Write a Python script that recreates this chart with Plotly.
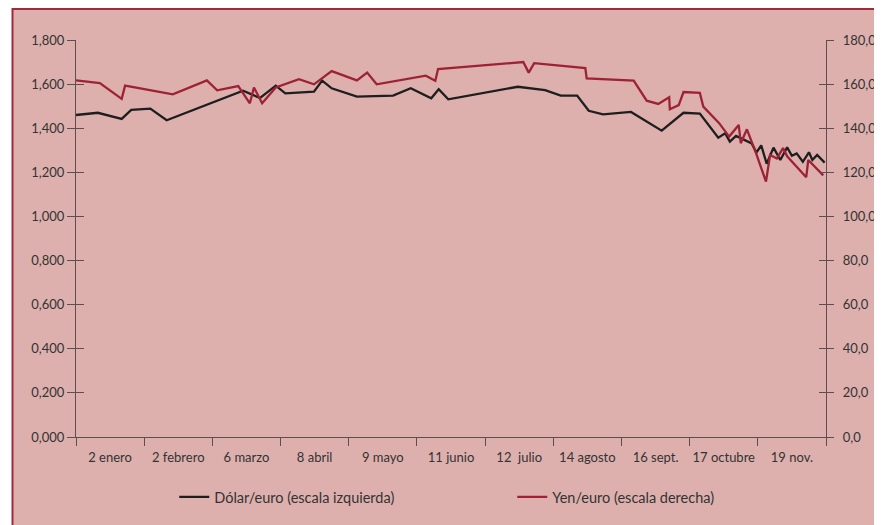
import plotly.graph_objects as go

# ---- data (x in month-period units: tick i = boundary i) ----
period_labels = ["2 enero", "2 febrero", "6 marzo", "8 abril", "9 mayo", "11 junio",
                 "12  julio", "14 agosto", "16 sept.", "17 octubre", "19 nov."]

usd_x = [0.00, 0.32, 0.67, 0.81, 1.09, 1.33, 2.45, 2.70, 2.93, 3.07, 3.49, 3.61, 3.75,
         4.12, 4.65, 4.91, 5.21, 5.32, 5.46, 6.48, 6.88, 7.11, 7.35, 7.52, 7.73, 8.14,
         8.59, 8.91, 9.15, 9.42, 9.52, 9.59, 9.68, 9.91, 9.98, 10.05, 10.13, 10.23,
         10.33, 10.43, 10.50, 10.57, 10.66, 10.75, 10.80, 10.87, 10.98]
usd_eur = [1.460, 1.470, 1.442, 1.483, 1.489, 1.436, 1.570, 1.537, 1.593, 1.558, 1.566,
           1.616, 1.581, 1.543, 1.548, 1.581, 1.536, 1.577, 1.531, 1.588, 1.573, 1.548,
           1.548, 1.479, 1.463, 1.474, 1.389, 1.470, 1.466, 1.357, 1.377, 1.339, 1.365,
           1.331, 1.290, 1.322, 1.239, 1.312, 1.256, 1.313, 1.275, 1.286, 1.248, 1.291,
           1.256, 1.279, 1.244]

jpy_x = [0.00, 0.35, 0.67, 0.72, 1.42, 1.92, 2.07, 2.38, 2.55, 2.61, 2.73, 2.93, 3.27,
         3.49, 3.75, 4.12, 4.27, 4.41, 5.13, 5.27, 5.31, 6.56, 6.64, 6.72, 7.47, 7.49,
         8.18, 8.37, 8.54, 8.70, 8.71, 8.84, 8.91, 9.15, 9.20, 9.43, 9.58, 9.72, 9.75,
         9.84, 9.97, 10.12, 10.18, 10.28, 10.37, 10.43, 10.71, 10.74, 10.96]
jpy_eur = [161.7, 160.5, 153.3, 159.3, 155.4, 161.7, 157.2, 159.1, 151.3, 158.5, 151.3,
           158.5, 162.2, 159.9, 165.9, 161.7, 165.2, 159.9, 163.8, 161.5, 166.8, 170.0,
           165.2, 169.5, 167.3, 162.6, 161.6, 152.5, 151.0, 154.0, 148.6, 150.5, 156.4,
           156.0, 149.8, 142.4, 136.2, 141.5, 133.2, 139.5, 129.0, 115.8, 127.9, 126.3,
           131.0, 127.3, 117.8, 125.6, 118.6]

left_ticks = [0, 0.2, 0.4, 0.6, 0.8, 1.0, 1.2, 1.4, 1.6, 1.8]
left_text = ["0,000", "0,200", "0,400", "0,600", "0,800", "1,000", "1,200", "1,400", "1,600", "1,800"]
right_ticks = [0, 20, 40, 60, 80, 100, 120, 140, 160, 180]
right_text = ["0,0", "20,0", "40,0", "60,0", "80,0", "100,0", "120,0", "140,0", "160,0", "180,0"]

# ---- style ----
FONT = "Lato"
TXT = "#333333"
AX = "#5e4e4e"
PINK = "#ddb0ad"
FRAME = "#a3283a"
BLACK = "#1e1e1e"
RED = "#9e2236"

fig = go.Figure()
fig.add_trace(go.Scatter(x=jpy_x, y=jpy_eur, mode="lines", name="Yen/euro (escala derecha)",
                         line=dict(color=RED, width=2.3), yaxis="y2", legendrank=2))
fig.add_trace(go.Scatter(x=usd_x, y=usd_eur, mode="lines", name="Dólar/euro (escala izquierda)",
                         line=dict(color=BLACK, width=2.3), yaxis="y", legendrank=1))
# helper traces so inner tick axes are drawn
fig.add_trace(go.Scatter(x=[None], y=[None], yaxis="y3", showlegend=False, hoverinfo="skip"))
fig.add_trace(go.Scatter(x=[None], y=[None], yaxis="y4", showlegend=False, hoverinfo="skip"))

n = len(period_labels)
# page body has an 8px margin, so the figure is 8px smaller than the window
fig.update_layout(
    width=874, height=517, autosize=False,
    margin=dict(l=68, r=56, t=32, b=88, autoexpand=False),
    paper_bgcolor="white", plot_bgcolor="rgba(0,0,0,0)",
    font=dict(family=FONT, size=13, color=TXT),
    showlegend=True,
    legend=dict(orientation="h", x=0.131, y=-0.151, xanchor="left", yanchor="middle",
                entrywidth=293, entrywidthmode="pixels", bgcolor="rgba(0,0,0,0)",
                font=dict(family=FONT, size=14.5, color=TXT), traceorder="normal"),
    xaxis=dict(range=[0, n], tickmode="array", tickvals=[i + 0.5 for i in range(n)],
               ticktext=period_labels, ticks="", showline=True, linecolor=AX, linewidth=1.2,
               showgrid=False, zeroline=False, ticklabelstandoff=8, automargin=False,
               minor=dict(tickmode="array", tickvals=list(range(n + 1)), ticks="outside",
                          ticklen=8, tickcolor=AX, tickwidth=1.2, showgrid=False)),
    yaxis=dict(range=[0, 1.8], tickmode="array", tickvals=left_ticks, ticktext=left_text,
               ticks="outside", ticklen=8, tickcolor=AX, tickwidth=1.2, showline=True,
               linecolor=AX, linewidth=1.2, showgrid=False, zeroline=False, automargin=False),
    yaxis2=dict(range=[0, 180], overlaying="y", side="right", anchor="x", tickmode="array",
                tickvals=right_ticks, ticktext=right_text, ticks="outside", ticklen=7,
                tickcolor=AX, tickwidth=1.2, showline=True, linecolor=AX, linewidth=1.2,
                showgrid=False, zeroline=False, ticklabelstandoff=6, automargin=False),
    yaxis3=dict(range=[0, 1.8], overlaying="y", side="left", anchor="x", tickmode="array",
                tickvals=left_ticks[1:], ticks="inside", ticklen=8, tickcolor=AX, tickwidth=1.2,
                showticklabels=False, showline=False, showgrid=False, zeroline=False,
                automargin=False),
    yaxis4=dict(range=[0, 180], overlaying="y", side="right", anchor="x", tickmode="array",
                tickvals=right_ticks[1:], ticks="inside", ticklen=7, tickcolor=AX, tickwidth=1.2,
                showticklabels=False, showline=False, showgrid=False, zeroline=False,
                automargin=False),
    shapes=[dict(type="rect", xref="paper", yref="paper", layer="below",
                 x0=(12.5 - 76) / 750, x1=1.1, y0=-0.4, y1=(437 - 9) / 397,
                 fillcolor=PINK, line=dict(color=FRAME, width=2))],
)

fig.write_html("out.html")
